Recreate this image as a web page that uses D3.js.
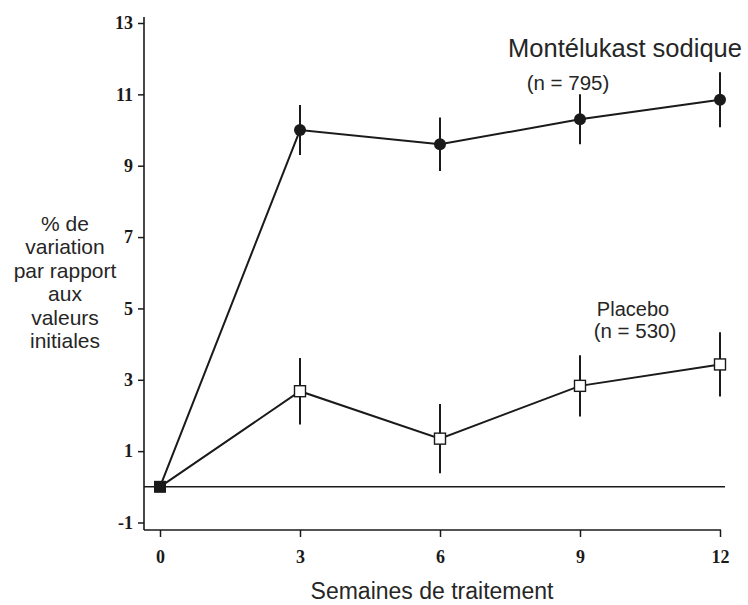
<!DOCTYPE html>
<html><head><meta charset="utf-8">
<script src="https://cdn.jsdelivr.net/npm/d3@7"></script>
<style>body{margin:0;background:#fff}svg{display:block}</style>
</head><body>
<svg id="c" width="748" height="605"></svg>
<script>
const weeks = [0, 3, 6, 9, 12];
const monteValues = [0, 10.0, 9.6, 10.3, 10.85];
const monteErr = [0, 0.7, 0.75, 0.7, 0.77];
const placeboValues = [0, 2.68, 1.35, 2.83, 3.43];
const placeboErr = [0, 0.93, 0.97, 0.86, 0.9];
const yTicks = [-1, 1, 3, 5, 7, 9, 11, 13];
const xTicks = [0, 3, 6, 9, 12];
const yTitle = ["% de", "variation", "par rapport", "aux", "valeurs", "initiales"];

const svg = d3.select("#c");
const x = d3.scaleLinear().domain([0, 12]).range([160, 720]);
const y = d3.scaleLinear().domain([-1, 13]).range([522.5, 23]);
const ink = "#1a1a1a";
const axX = 144, axY = 530;

// axes lines
svg.append("line").attr("x1", axX).attr("x2", axX).attr("y1", 17).attr("y2", axY)
  .attr("stroke", ink).attr("stroke-width", 1.6);
svg.append("line").attr("x1", axX).attr("x2", x(12) + 1).attr("y1", axY).attr("y2", axY)
  .attr("stroke", ink).attr("stroke-width", 1.6);

const serif = "Liberation Serif, Times New Roman, serif";
const ya = svg.append("g").attr("transform", `translate(${axX},0)`)
  .call(d3.axisLeft(y).tickValues(yTicks).tickSize(6).tickPadding(5).tickFormat(d => String(d)));
ya.select(".domain").remove();
ya.selectAll("line").attr("stroke", ink).attr("stroke-width", 1.5);
ya.selectAll("text").attr("font-family", serif)
  .attr("font-weight", "bold").attr("font-size", 18).attr("fill", ink);

const xa = svg.append("g").attr("transform", `translate(0,${axY})`)
  .call(d3.axisBottom(x).tickValues(xTicks).tickSize(7).tickPadding(13).tickFormat(d => String(d)));
xa.select(".domain").remove();
xa.selectAll("line").attr("stroke", ink).attr("stroke-width", 1.5);
xa.selectAll("text").attr("font-family", serif)
  .attr("font-weight", "bold").attr("font-size", 18).attr("fill", ink);

// zero reference line
svg.append("line").attr("x1", axX).attr("x2", 725).attr("y1", y(0)).attr("y2", y(0))
  .attr("stroke", ink).attr("stroke-width", 1.6);

const line = d3.line().x((d, i) => x(weeks[i])).y(d => y(d));

function series(vals, errs) {
  svg.append("path").attr("d", line(vals)).attr("fill", "none")
    .attr("stroke", ink).attr("stroke-width", 2);
  vals.forEach((v, i) => {
    if (i === 0) return;
    svg.append("line").attr("x1", x(weeks[i])).attr("x2", x(weeks[i]))
      .attr("y1", y(v + errs[i])).attr("y2", y(v - errs[i]))
      .attr("stroke", ink).attr("stroke-width", 2);
  });
}
series(placeboValues, placeboErr);
series(monteValues, monteErr);

// markers
monteValues.forEach((v, i) => {
  if (i === 0) return;
  svg.append("circle").attr("cx", x(weeks[i])).attr("cy", y(v)).attr("r", 6).attr("fill", ink);
});
placeboValues.forEach((v, i) => {
  if (i === 0) {
    svg.append("rect").attr("x", x(0) - 6).attr("y", y(v) - 6).attr("width", 12).attr("height", 12)
      .attr("fill", ink);
  } else {
    svg.append("rect").attr("x", x(weeks[i]) - 5.5).attr("y", y(v) - 5.5).attr("width", 11).attr("height", 11)
      .attr("fill", "#fff").attr("stroke", ink).attr("stroke-width", 1.4);
  }
});

const sans = "Liberation Sans, Arial, sans-serif";
const txtCol = "#262626";
// series labels
svg.append("text").attr("x", 625).attr("y", 57).attr("text-anchor", "middle")
  .attr("font-family", sans).attr("font-size", 25.5).attr("fill", txtCol).text("Montélukast sodique");
svg.append("text").attr("x", 568).attr("y", 90).attr("text-anchor", "middle")
  .attr("font-family", sans).attr("font-size", 20.5).attr("fill", txtCol).text("(n = 795)");
svg.append("text").attr("x", 633).attr("y", 316).attr("text-anchor", "middle")
  .attr("font-family", sans).attr("font-size", 20).attr("fill", txtCol).text("Placebo");
svg.append("text").attr("x", 635).attr("y", 338).attr("text-anchor", "middle")
  .attr("font-family", sans).attr("font-size", 20.5).attr("fill", txtCol).text("(n = 530)");

// y title
yTitle.forEach((t, i) => {
  svg.append("text").attr("x", 65).attr("y", 231 + i * 23.4).attr("text-anchor", "middle")
    .attr("font-family", sans).attr("font-size", 21).attr("fill", txtCol).text(t);
});
// x title
svg.append("text").attr("x", 432).attr("y", 599).attr("text-anchor", "middle")
  .attr("font-family", sans).attr("font-size", 23).attr("fill", txtCol).text("Semaines de traitement");
</script>
</body></html>
